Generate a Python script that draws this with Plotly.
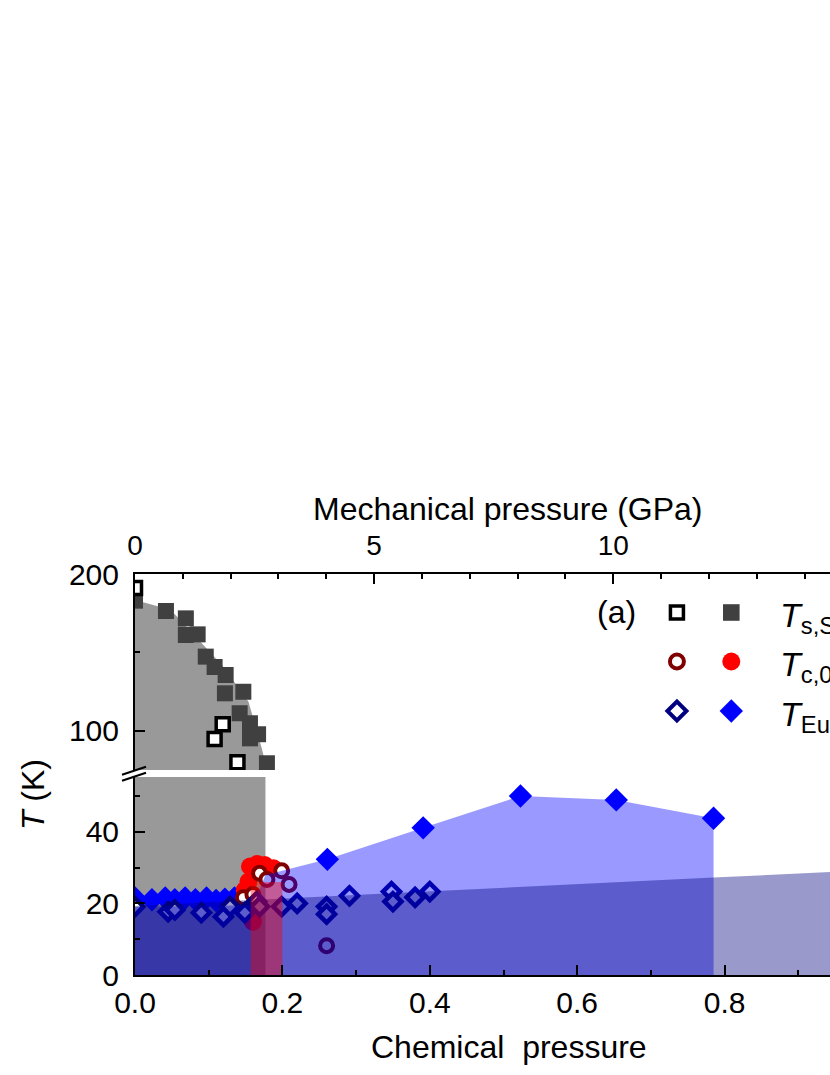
import plotly.graph_objects as go

# --- data: chemical pressure (x) and temperature in K ---
sdw_open_x = [0.0, 0.108, 0.119, 0.139]
sdw_open_t = [191.0, 94.8, 104.1, 79.9]
sdw_filled_x = [0.0, 0.042, 0.069, 0.069, 0.085, 0.096, 0.108, 0.123, 0.122,
                0.147, 0.142, 0.156, 0.167, 0.156, 0.179]
sdw_filled_t = [183.0, 176.4, 171.7, 161.1, 161.5, 147.3, 140.7, 135.6, 123.9,
                124.9, 111.2, 104.8, 97.8, 95.2, 79.3]

tc_open_x = [0.147, 0.160, 0.169, 0.179, 0.199, 0.209, 0.260]
tc_open_t = [21.6, 22.5, 28.4, 26.7, 29.1, 25.3, 8.2]
tc_filled_x = [0.160, 0.149, 0.154, 0.156, 0.166, 0.176, 0.188]
tc_filled_t = [14.9, 23.7, 26.1, 30.3, 31.0, 30.7, 29.8]

eu_open_x = [0.0, 0.045, 0.054, 0.090, 0.120, 0.129, 0.149, 0.165, 0.169,
             0.199, 0.220, 0.260, 0.260, 0.291, 0.348, 0.350, 0.380, 0.400]
eu_open_t = [19.1, 17.7, 18.2, 17.4, 16.3, 19.1, 17.4, 20.5, 19.1,
             19.1, 20.0, 19.1, 17.0, 22.1, 23.3, 20.5, 21.7, 23.3]
eu_filled_x = [0.0, 0.023, 0.041, 0.054, 0.068, 0.082, 0.097, 0.110, 0.122,
               0.135, 0.150, 0.261, 0.391, 0.523, 0.653, 0.785]
eu_filled_t = [21.5, 21.0, 21.5, 21.0, 21.5, 21.0, 21.5, 20.8, 21.2,
               21.5, 22.5, 32.3, 41.1, 50.0, 48.9, 43.8]

# shaded phase regions
sdw_region_x = [0.0, 0.032, 0.054, 0.095, 0.118, 0.154, 0.172, 0.179]
sdw_region_t = [183.4, 179.2, 174.3, 153.6, 142.0, 118.6, 88.8, 75.0]
sdw_low_x = [0.0, 0.177]
sdw_low_t = [55.3, 55.3]
eu_region_x = [0.0, 0.160, 0.177, 0.261, 0.391, 0.523, 0.653, 0.785]
eu_region_t = [19.0, 19.5, 27.9, 32.3, 41.1, 50.0, 48.9, 43.8]
eu_low_x = [0.0, 0.36, 0.785, 1.0]
eu_low_t = [19.3, 23.0, 27.2, 29.3]
sc_region_x = [0.157, 0.200]
sc_region_t = [26.0, 26.0]

# axis ranges
chem_range = [0.0, 1.0]
gpa_range = [0.0, 15.41]
t_high_range = [75, 200]
t_low_range = [0, 55.3]

FONT = "Liberation Sans, Arial, sans-serif"
W, H = 920, 1075
L, T_TOP, B = 135, 574, 975      # plot area in pixels
R = 872.5


def px_x(x):
    return (x - L) / (R - L)


def px_y(y):
    return (B - y) / (B - T_TOP)


fig = go.Figure()

# opaque grey SDW region, drawn under the points
fig.add_trace(go.Scatter(x=sdw_region_x, y=sdw_region_t, yaxis="y2", mode="none",
                         fill="tozeroy", fillcolor="#999999", hoverinfo="skip"))
fig.add_trace(go.Scatter(x=sdw_low_x, y=sdw_low_t, mode="none",
                         fill="tozeroy", fillcolor="#999999", hoverinfo="skip"))

# points
fig.add_trace(go.Scatter(x=sdw_filled_x, y=sdw_filled_t, yaxis="y2", mode="markers",
                         marker=dict(symbol="square", size=16, color="#404040")))
fig.add_trace(go.Scatter(x=sdw_open_x, y=sdw_open_t, yaxis="y2", mode="markers",
                         marker=dict(symbol="square", size=13, color="white",
                                     line=dict(color="black", width=3.5))))
fig.add_trace(go.Scatter(x=eu_filled_x, y=eu_filled_t, mode="markers",
                         marker=dict(symbol="diamond", size=18, color="#0000FF")))
fig.add_trace(go.Scatter(x=tc_filled_x, y=tc_filled_t, mode="markers",
                         marker=dict(symbol="circle", size=18, color="#FF0000")))
fig.add_trace(go.Scatter(x=tc_open_x, y=tc_open_t, mode="markers",
                         marker=dict(symbol="circle", size=13, color="white",
                                     line=dict(color="#800000", width=4))))
fig.add_trace(go.Scatter(x=eu_open_x, y=eu_open_t, mode="markers",
                         marker=dict(symbol="diamond", size=13, color="white",
                                     line=dict(color="#000080", width=4.5))))

# translucent regions laid over the points
fig.add_trace(go.Scatter(x=eu_region_x, y=eu_region_t, mode="none",
                         fill="tozeroy", fillcolor="rgba(0,0,255,0.4)", hoverinfo="skip"))
fig.add_trace(go.Scatter(x=eu_low_x, y=eu_low_t, mode="none",
                         fill="tozeroy", fillcolor="rgba(0,0,128,0.4)", hoverinfo="skip"))
fig.add_trace(go.Scatter(x=sc_region_x, y=sc_region_t, mode="none",
                         fill="tozeroy", fillcolor="rgba(255,0,0,0.4)", hoverinfo="skip"))

# top axis needs a trace of its own to be drawn
fig.add_trace(go.Scatter(x=[], y=[], xaxis="x2", yaxis="y2", hoverinfo="skip"))

axis_style = dict(showgrid=False, zeroline=False, showline=True, linecolor="black",
                  linewidth=2, ticks="inside", ticklen=10, tickwidth=2,
                  tickcolor="black", tickfont=dict(family=FONT, size=30, color="black"))

fig.update_layout(
    width=W, height=H, autosize=False,
    paper_bgcolor="white", plot_bgcolor="white",
    showlegend=False,
    margin=dict(l=L, r=W - R, t=T_TOP, b=H - B, pad=0),
    font=dict(family=FONT, color="black"),
    xaxis=dict(range=chem_range, anchor="y", tickvals=[0, 0.2, 0.4, 0.6, 0.8, 1.0],
               tickformat=".1f", ticklabelstandoff=0,
               minor=dict(dtick=0.1, ticks="inside", ticklen=5, tickwidth=2,
                          tickcolor="black"),
               **axis_style),
    xaxis2=dict(range=gpa_range, anchor="y2", overlaying="x", side="top",
                tickvals=[0, 5, 10, 15], ticklabelstandoff=6,
                minor=dict(dtick=1, ticks="inside", ticklen=5, tickwidth=2,
                           tickcolor="black"),
                **{**axis_style, "tickfont": dict(family=FONT, size=28, color="black")}),
    yaxis=dict(range=t_low_range, domain=[0, 198 / 401], tickvals=[0, 20, 40],
               ticklabelstandoff=8,
               minor=dict(tickvals=[10, 30, 50], ticks="inside", ticklen=5,
                          tickwidth=2, tickcolor="black"),
               **axis_style),
    yaxis2=dict(range=t_high_range, domain=[205 / 401, 1], tickvals=[100, 200],
                anchor="x", ticklabelstandoff=8,
                minor=dict(tickvals=[150], ticks="inside", ticklen=5,
                           tickwidth=2, tickcolor="black"),
                **axis_style),
)

ann = dict(xref="paper", yref="paper", showarrow=False, xanchor="center",
           yanchor="middle", font=dict(family=FONT, size=32, color="black"))
fig.add_annotation(text="Mechanical pressure (GPa)", x=px_x(508), y=px_y(509), **ann)
fig.add_annotation(text="Chemical\u00a0 pressure", x=px_x(509), y=px_y(1047), **ann)
fig.add_annotation(text="<i>T</i> (K)", x=px_x(33), y=px_y(795), textangle=-90, **ann)
fig.add_annotation(text="(a)", x=px_x(617), y=px_y(612), **ann)

legend_rows = [("<i>T</i><sub>s,SDW</sub>", 612.5),
               ("<i>T</i><sub>c,0</sub>", 661.5),
               ("<i>T</i><sub>Eu</sub>", 711)]
for label, ypix in legend_rows:
    fig.add_annotation(text=label, x=px_x(778), y=px_y(ypix + 5),
                       **{**ann, "xanchor": "left",
                          "font": dict(family=FONT, size=34, color="black")})

# legend keys (pixel sized shapes anchored in paper space)
key = dict(xref="paper", yref="paper", xsizemode="pixel", ysizemode="pixel")
xa, xb = px_x(677.3), px_x(731.7)
r1, r2, r3 = px_y(612.5), px_y(661.5), px_y(711)
fig.add_shape(type="rect", xanchor=xa, yanchor=r1, x0=-6.5, x1=6.5, y0=-6.5, y1=6.5,
              fillcolor="white", line=dict(color="black", width=3.5), **key)
fig.add_shape(type="rect", xanchor=xb, yanchor=r1, x0=-8.3, x1=8.3, y0=-8.3, y1=8.3,
              fillcolor="#404040", line=dict(width=0), **key)
fig.add_shape(type="circle", xanchor=xa, yanchor=r2, x0=-7, x1=7, y0=-7, y1=7,
              fillcolor="white", line=dict(color="#800000", width=4), **key)
fig.add_shape(type="circle", xanchor=xb, yanchor=r2, x0=-9, x1=9, y0=-9, y1=9,
              fillcolor="#FF0000", line=dict(width=0), **key)
fig.add_shape(type="path", xanchor=xa, yanchor=r3, path="M -9.5,0 L 0,9.5 L 9.5,0 L 0,-9.5 Z",
              fillcolor="white", line=dict(color="#000080", width=4), **key)
fig.add_shape(type="path", xanchor=xb, yanchor=r3, path="M -11.7,0 L 0,11.7 L 11.7,0 L 0,-11.7 Z",
              fillcolor="#0000FF", line=dict(width=0), **key)

# axis break marks
fig.add_shape(type="path", xanchor=0, yanchor=px_y(773.5),
              path="M -13,-1.3 L 11,6.7 M -13,-7.3 L 11,0.7",
              line=dict(color="black", width=2), **key)

fig.write_html("out.html", config={"displayModeBar": False},
               post_script="document.body.style.margin='0px';"
                           "document.body.style.overflow='hidden';")
